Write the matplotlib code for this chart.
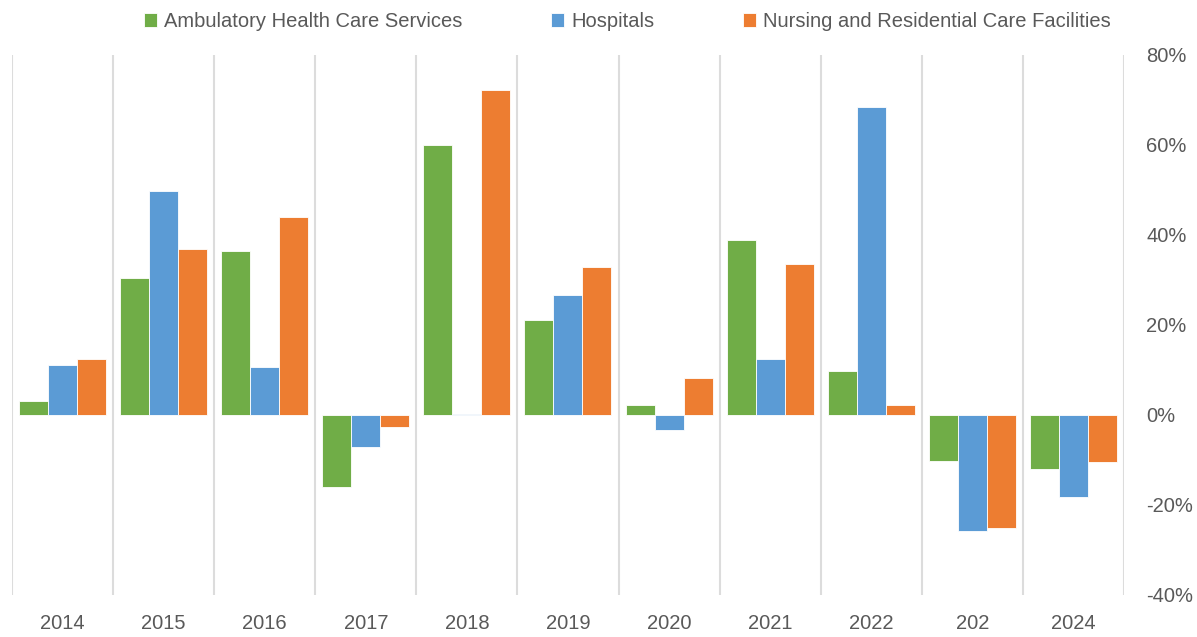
import numpy as np
import matplotlib.pyplot as plt
from matplotlib.ticker import FuncFormatter

plt.rcParams['font.family'] = ['Liberation Sans', 'DejaVu Sans']

years = ["2014", "2015", "2016", "2017", "2018", "2019", "2020", "2021", "2022", "202", "2024"]
ambulatory = [3.1, 30.4, 36.4, -16.0, 60.0, 21.1, 2.2, 38.9, 9.8, -10.2, -12.0]
hospitals = [11.1, 49.8, 10.7, -7.1, 0.1, 26.7, -3.3, 12.4, 68.4, -25.8, -18.2]
nursing = [12.4, 36.9, 44.0, -2.7, 72.2, 32.9, 8.2, 33.6, 2.2, -25.1, -10.4]

series = [
    ("Ambulatory Health Care Services", ambulatory, "#70AD47"),
    ("Hospitals", hospitals, "#5B9BD5"),
    ("Nursing and Residential Care Facilities", nursing, "#ED7D31"),
]

fig = plt.figure(figsize=(11.97, 6.37), dpi=100)
ax = fig.add_axes([0.010, 0.066, 0.929, 0.848])

x = np.arange(len(years))
w = 0.287
for i, (name, vals, color) in enumerate(series):
    ax.bar(x + (i - 1) * w, vals, width=w, color=color, label=name,
           edgecolor="white", linewidth=0.6, zorder=3)

ax.set_xlim(-0.5, len(years) - 0.5)
ax.set_ylim(-40, 80)
ax.set_yticks(np.arange(-40, 81, 20))
ax.yaxis.set_major_formatter(FuncFormatter(lambda v, p: f"{v:.0f}%"))
ax.yaxis.tick_right()

ax.set_xticks(x)
ax.set_xticklabels(years)
# category separators
for b in np.arange(-0.5, len(years), 1.0):
    ax.axvline(b, color="#dcdcdc", linewidth=1.5, zorder=1)

for s in ax.spines.values():
    s.set_visible(False)
ax.tick_params(axis="both", length=0, labelsize=14.5, colors="#595959")
ax.tick_params(axis="x", pad=14)
ax.tick_params(axis="y", pad=16)
for lbl in ax.get_yticklabels():
    lbl.set_horizontalalignment("left")

leg = fig.legend(loc="center", bbox_to_anchor=(0.524, 0.966), ncol=3, frameon=False,
                 fontsize=14.5, handlelength=0.65, handleheight=0.65,
                 handletextpad=0.35, columnspacing=4.4)
for t in leg.get_texts():
    t.set_color("#595959")

fig.savefig("out.png", dpi=100)
